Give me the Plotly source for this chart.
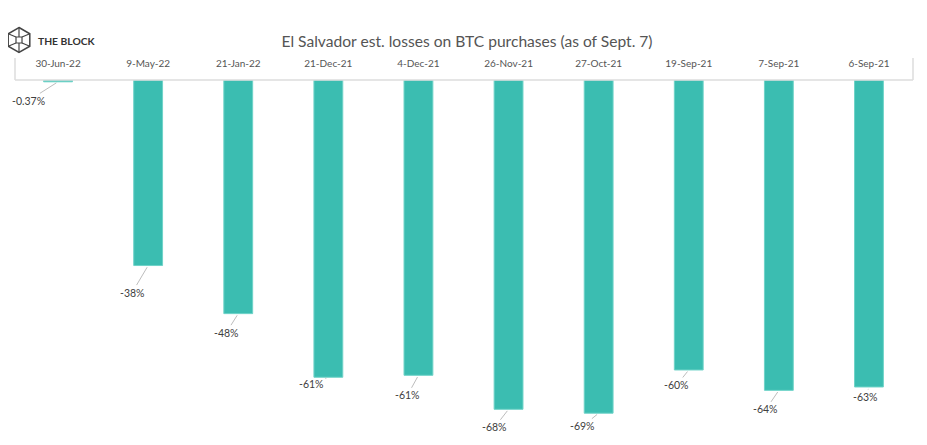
import plotly.graph_objects as go

# purchase dates (most recent first) and estimated loss in %
purchase_dates = ['30-Jun-22', '9-May-22', '21-Jan-22', '21-Dec-21', '4-Dec-21',
                  '26-Nov-21', '27-Oct-21', '19-Sep-21', '7-Sep-21', '6-Sep-21']
loss_pct = [-0.37, -38.2, -48.1, -61.2, -60.8, -67.8, -68.6, -59.7, -63.9, -63.2]
loss_labels = ['-0.37%', '-38%', '-48%', '-61%', '-61%', '-68%', '-69%', '-60%', '-64%', '-63%']

# pixel offset of each data label from the bar end (leader lines)
label_offsets = [(-30, 19), (-16, 27), (-12, 19), (-17, 7), (-11, 20),
                 (-14, 18), (-16, 13), (-12, 15), (-13, 19), (-3, 10)]

# the page body has an 8px margin, so the figure is shrunk and shifted to compensate
OFF = 8
W, H = 927 - 2 * OFF, 445 - 2 * OFF
ML, MR, MT, MB = 13 - OFF, 5, 80 - OFF, 0
PW, PH = W - ML - MR, H - MT - MB


def px(x):
    # screen pixel x -> paper coordinate
    return (x - OFF - ML) / PW


def py(y):
    # screen pixel y -> paper coordinate
    return (H - MB - (y - OFF)) / PH


fig = go.Figure(go.Bar(
    x=purchase_dates,
    y=loss_pct,
    marker=dict(color='#3bbdb1', line=dict(color='#6fd3c8', width=1)),
    hoverinfo='x+y',
))

annotations = []
for d, v, lab, (ox, oy) in zip(purchase_dates, loss_pct, loss_labels, label_offsets):
    annotations.append(dict(
        x=d, y=v, text=lab, showarrow=True, arrowhead=0, arrowwidth=1,
        arrowcolor='#bdbdbd', ax=ox, ay=oy, standoff=2,
        font=dict(family='Lato, Open Sans, sans-serif', size=10.5, color='#404040'),
    ))

# logo text
annotations.append(dict(
    xref='paper', yref='paper', x=px(36), y=py(41), xanchor='left', yanchor='middle',
    text='<b>THE BLOCK</b>', showarrow=False,
    font=dict(family='Lato, Open Sans, sans-serif', size=10.3, color='#333333'),
))

# logo icon: hexagon with inner square
cx, cy, r = 19, 40, 12.5
hexpts = [(cx, cy - r), (cx + 10.8, cy - r / 2), (cx + 10.8, cy + r / 2),
          (cx, cy + r), (cx - 10.8, cy + r / 2), (cx - 10.8, cy - r / 2)]
hexpath = 'M ' + ' L '.join(f'{px(a):.5f},{py(b):.5f}' for a, b in hexpts) + ' Z'
sq = 3
inner = [(cx - sq, cy - sq), (cx + sq, cy - sq), (cx + sq, cy + sq), (cx - sq, cy + sq)]
sqpath = 'M ' + ' L '.join(f'{px(a):.5f},{py(b):.5f}' for a, b in inner) + ' Z'
shapes = [
    dict(type='path', xref='paper', yref='paper', path=hexpath, line=dict(color='#444444', width=1.5)),
    dict(type='path', xref='paper', yref='paper', path=sqpath, line=dict(color='#444444', width=1.2)),
]
# spokes from the vertices to the inner square
spokes = [(hexpts[0], (cx, cy - sq)), (hexpts[2], (cx + sq, cy + sq)), (hexpts[4], (cx - sq, cy + sq)),
          (hexpts[5], (cx - sq, cy - sq)), (hexpts[1], (cx + sq, cy - sq)), (hexpts[3], (cx, cy + sq))]
for (a, b), (c, d) in spokes:
    shapes.append(dict(type='line', xref='paper', yref='paper',
                       x0=px(a), y0=py(b), x1=px(c), y1=py(d), line=dict(color='#444444', width=1.2)))

# frame around the date header
frame = dict(color='#dcdcdc', width=1.5)
shapes += [
    dict(type='line', xref='paper', yref='paper', x0=px(15), x1=px(913), y0=py(80), y1=py(80), line=frame),
    dict(type='line', xref='paper', yref='paper', x0=px(15), x1=px(15), y0=py(58), y1=py(80), line=frame),
    dict(type='line', xref='paper', yref='paper', x0=px(913), x1=px(913), y0=py(58), y1=py(80), line=frame),
]

fig.update_layout(
    width=W, height=H,
    margin=dict(l=ML, r=MR, t=MT, b=MB, autoexpand=False),
    paper_bgcolor='white', plot_bgcolor='white',
    title=dict(text='El Salvador est. losses on BTC purchases (as of Sept. 7)',
               x=px(467), xref='paper', xanchor='center', y=1 - (42 - OFF) / H, yanchor='middle',
               font=dict(family='Lato, Open Sans, sans-serif', size=15.6, color='#555555')),
    bargap=0.68,
    showlegend=False,
    xaxis=dict(side='top', showline=False, showgrid=False, ticks='', automargin=False,
               range=[-0.5, len(purchase_dates) - 0.5], ticklabelstandoff=10,
               tickfont=dict(family='Lato, Open Sans, sans-serif', size=10, color='#555555'),
               fixedrange=True),
    yaxis=dict(range=[-73.5, 0], visible=False, showgrid=False, zeroline=False, automargin=False),
    annotations=annotations,
    shapes=shapes,
)

fig.write_html('out.html')
